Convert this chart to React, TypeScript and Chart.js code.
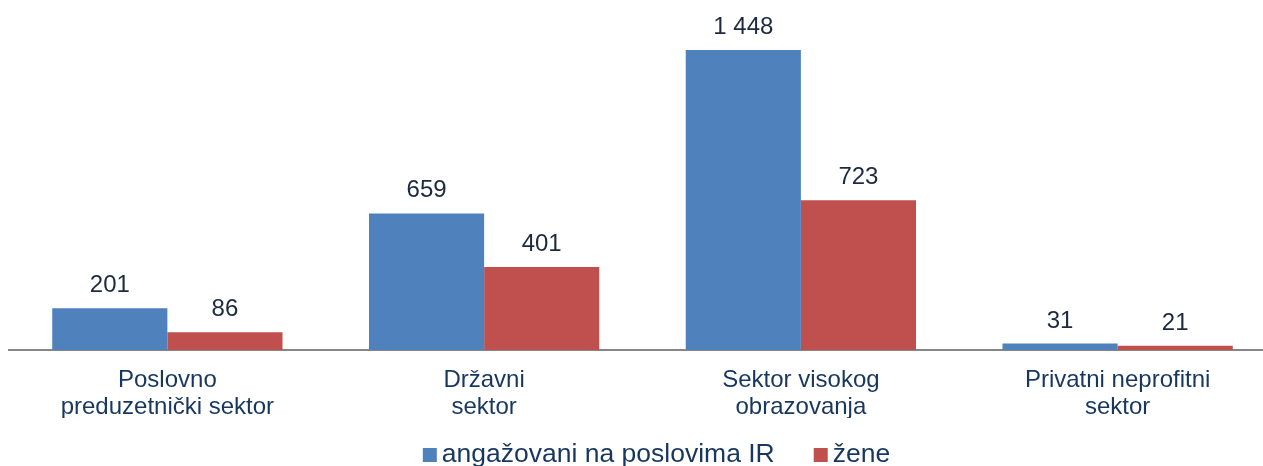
import React, { useEffect, useRef } from "react";
import { Chart, registerables } from "chart.js";

Chart.register(...registerables);

const categories: string[][] = [
  ["Poslovno", "preduzetnički sektor"],
  ["Državni", "sektor"],
  ["Sektor visokog", "obrazovanja"],
  ["Privatni neprofitni", "sektor"],
];
const seriesNames = ["angažovani na poslovima IR", "žene"];
const engaged = [201, 659, 1448, 31];
const women = [86, 401, 723, 21];
const colors = ["#4F81BD", "#C0504D"];

const FONT = "'Liberation Sans', Arial, sans-serif";

const fmt = (v: number) => String(v).replace(/\B(?=(\d{3})+(?!\d))/g, " ");

const valueLabels = {
  id: "valueLabels",
  afterDatasetsDraw(chart: any) {
    const ctx = chart.ctx;
    ctx.save();
    ctx.font = `24px ${FONT}`;
    ctx.fillStyle = "#1C2A3E";
    ctx.textAlign = "center";
    ctx.textBaseline = "alphabetic";
    chart.data.datasets.forEach((ds: any, i: number) => {
      const meta = chart.getDatasetMeta(i);
      meta.data.forEach((bar: any, j: number) => {
        ctx.fillText(fmt(ds.data[j]), bar.x, bar.y - 16);
      });
    });
    ctx.restore();
  },
};

const customLegend = {
  id: "customLegend",
  afterDraw(chart: any) {
    const ctx = chart.ctx;
    ctx.save();
    ctx.font = `26.5px ${FONT}`;
    ctx.textBaseline = "alphabetic";
    ctx.textAlign = "left";
    const box = 14;
    const boxGap = 5;
    const itemGap = 39;
    const items = chart.data.datasets.map((ds: any) => ({
      label: ds.label,
      color: ds.backgroundColor,
      w: ctx.measureText(ds.label).width,
    }));
    const total =
      items.reduce((s: number, it: any) => s + box + boxGap + it.w, 0) + itemGap * (items.length - 1);
    let x = 656.5 - total / 2;
    const baseline = 461.5;
    items.forEach((it: any) => {
      ctx.fillStyle = it.color;
      ctx.fillRect(x, 448, box, box);
      x += box + boxGap;
      ctx.fillStyle = "#17375E";
      ctx.fillText(it.label, x, baseline);
      x += it.w + itemGap;
    });
    ctx.restore();
  },
};

export default function App() {
  const ref = useRef<HTMLCanvasElement | null>(null);
  useEffect(() => {
    document.body.style.margin = "0";
    document.body.style.overflow = "hidden";
    const chart = new Chart(ref.current as HTMLCanvasElement, {
      type: "bar",
      data: {
        labels: categories,
        datasets: [
          {
            label: seriesNames[0],
            data: engaged,
            backgroundColor: colors[0],
            categoryPercentage: 0.727,
            barPercentage: 1,
          },
          {
            label: seriesNames[1],
            data: women,
            backgroundColor: colors[1],
            categoryPercentage: 0.727,
            barPercentage: 1,
          },
        ],
      },
      options: {
        animation: false,
        responsive: false,
        maintainAspectRatio: false,
        layout: { padding: { left: 9, right: 0, top: 0, bottom: 48 } },
        scales: {
          x: {
            grid: { display: false, drawTicks: false },
            border: { display: true, color: "#878787", width: 2 },
            ticks: {
              color: "#17375E",
              font: { size: 24, family: FONT, lineHeight: 1.11 },
              padding: 17,
              maxRotation: 0,
              autoSkip: false,
            },
            afterFit: (scale: any) => {
              scale.height = 68;
            },
          },
          y: {
            display: false,
            min: 0,
            max: 1689,
          },
        },
        plugins: {
          legend: { display: false },
          tooltip: { enabled: false },
        },
      },
      plugins: [valueLabels, customLegend],
    });
    return () => chart.destroy();
  }, []);
  return (
    <div style={{ position: "absolute", left: 0, top: 0, width: 1263, height: 466, overflow: "hidden" }}>
      <canvas ref={ref} width={1276} height={466} style={{ display: "block" }} />
    </div>
  );
}
